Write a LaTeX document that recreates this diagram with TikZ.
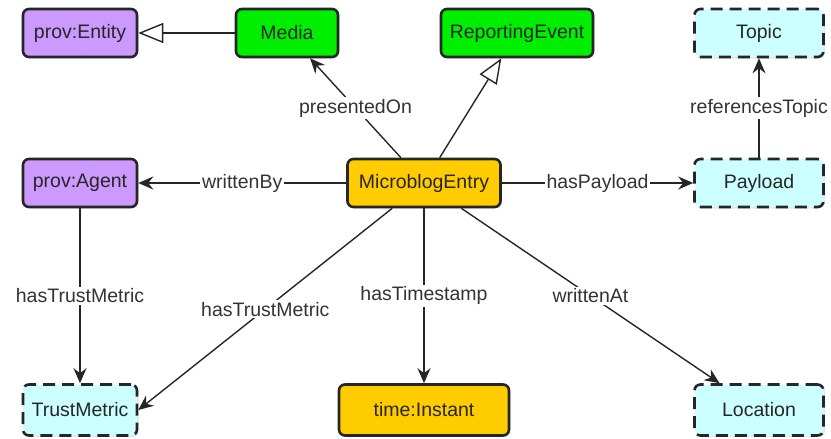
\documentclass[tikz,border=0pt]{standalone}
\usepackage{fontspec}
\setmainfont{Liberation Sans}
\usetikzlibrary{arrows.meta,shadows}
\definecolor{agentcol}{HTML}{CC99FF}
\definecolor{eventcol}{HTML}{00EE00}
\definecolor{entrycol}{HTML}{FFCC00}
\definecolor{extcol}{HTML}{CCFFFF}
\begin{document}
\begin{tikzpicture}[x=1pt, y=-1pt,
        box/.style={draw=black!85, line width=2.6pt, rounded corners=6pt, minimum height=48pt, inner sep=0pt,
            font=\fontsize{19.5}{22}\selectfont, text=black!85,
            drop shadow={opacity=0.2, shadow xshift=1.5pt, shadow yshift=-1.5pt}},
        agentbox/.style={box, fill=agentcol, minimum width=114pt},
        eventbox/.style={box, fill=eventcol},
        entrybox/.style={box, fill=entrycol},
        extbox/.style={box, fill=extcol, minimum width=129pt, dash pattern=on 12pt off 7pt},
        lbl/.style={fill=white, inner sep=2pt, font=\fontsize{19.5}{22}\selectfont, text=black!80},
        rel/.style={draw=black!85, line width=1.4pt, -{Stealth[length=15pt, width=13pt, inset=5pt]}},
        sub/.style={draw=black!85, line width=1.4pt, -{Triangle[open, length=25pt, width=20pt, line width=1.4pt]}},
    ]
    \useasboundingbox (0,0) rectangle (831,439);
    \node[agentbox] (e) at (80,33) {prov:Entity};
    \node[eventbox, minimum width=102pt] (d) at (287,33) {Media};
    \node[eventbox, minimum width=152pt] (r) at (517,33) {ReportingEvent};
    \node[extbox] (t) at (759,33) {Topic};
    \node[agentbox] (a) at (80,183) {prov:Agent};
    \node[entrybox, minimum width=153pt] (m) at (424,183) {MicroblogEntry};
    \node[extbox] (p) at (759,183) {Payload};
    \node[extbox, minimum width=114pt, minimum height=51pt] (tm) at (80,410) {TrustMetric};
    \node[entrybox, minimum width=170pt, minimum height=51pt] (i) at (424,410) {time:Instant};
    \node[extbox, minimum height=51pt] (l) at (759,410) {Location};
    \draw[sub] (d) -- (e);
    \draw[sub] (m) -- (r);
    \draw[rel] (m) -- node[lbl] {presentedOn} (d);
    \draw[rel] (m) -- node[lbl] {writtenBy} (a);
    \draw[rel] (m) -- node[lbl] {hasPayload} (p);
    \draw[rel] (p) -- node[lbl] {referencesTopic} (t);
    \draw[rel] (a) -- node[lbl] {hasTrustMetric} (tm);
    \draw[rel] (m) -- node[lbl] {hasTrustMetric} (tm.east);
    \draw[rel] (m) -- node[lbl] {hasTimestamp} (i);
    \draw[rel] (m) -- node[lbl] {writtenAt} (l);
\end{tikzpicture}
\end{document}
